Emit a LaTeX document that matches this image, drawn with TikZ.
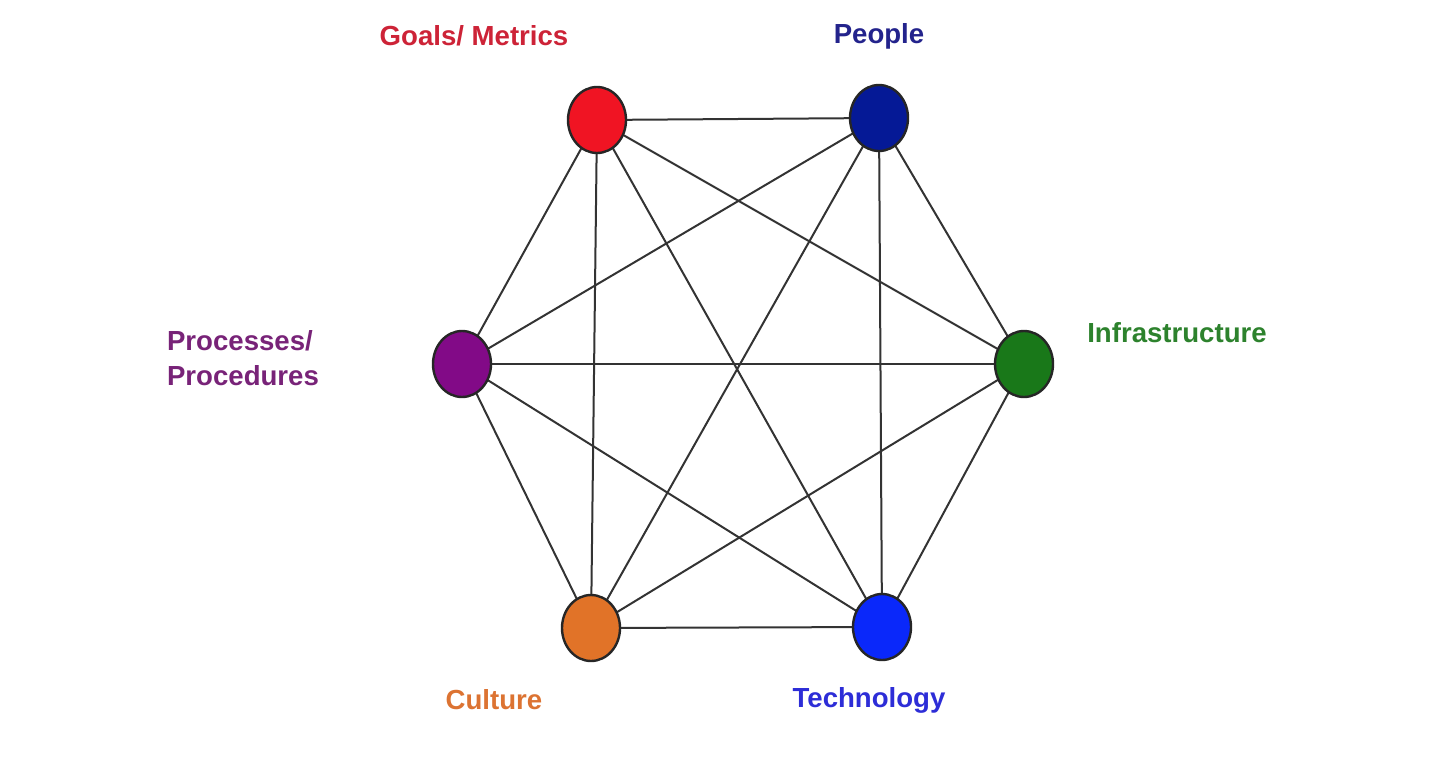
\documentclass[tikz,border=0pt]{standalone}
\usepackage{fontspec}
\setmainfont{Liberation Sans}
\usetikzlibrary{positioning,backgrounds,shapes}

\definecolor{goalsred}{RGB}{240,20,35}
\definecolor{goalstext}{RGB}{205,35,55}
\definecolor{peopleblue}{RGB}{5,25,150}
\definecolor{peopletext}{RGB}{35,35,140}
\definecolor{infragreen}{RGB}{25,120,25}
\definecolor{infratext}{RGB}{45,130,45}
\definecolor{techblue}{RGB}{10,40,250}
\definecolor{techtext}{RGB}{45,45,215}
\definecolor{cultorange}{RGB}{225,115,40}
\definecolor{culttext}{RGB}{220,115,50}
\definecolor{procpurple}{RGB}{130,10,135}
\definecolor{proctext}{RGB}{120,35,120}

\tikzset{
  dot/.style={ellipse, draw=black!85, line width=1.2pt, minimum width=29pt, minimum height=33pt, inner sep=0pt},
  tag/.style={font=\fontsize{13.8}{17.5}\selectfont\bfseries},
  link/.style={line width=1pt, draw=black!80}
}

\begin{document}
\begin{tikzpicture}[x=0.5pt,y=0.5pt,yscale=-1]
\useasboundingbox (0,0) rectangle (1456,760);

%Shape: Circles
\node [dot, fill=goalsred] (goals) at (597,120) {};
\node [dot, fill=peopleblue] (people) at (879,118) {};
\node [dot, fill=infragreen] (infra) at (1024,364) {};
\node [dot, fill=techblue] (tech) at (882,627) {};
\node [dot, fill=cultorange] (culture) at (591,628) {};
\node [dot, fill=procpurple] (proc) at (462,364) {};

%Straight Lines
\begin{scope}[on background layer]
\draw [link] (goals.center) -- (people.center) ;
\draw [link] (goals.center) -- (infra.center) ;
\draw [link] (goals.center) -- (tech.center) ;
\draw [link] (goals.center) -- (culture.center) ;
\draw [link] (goals.center) -- (proc.center) ;
\draw [link] (people.center) -- (infra.center) ;
\draw [link] (people.center) -- (tech.center) ;
\draw [link] (people.center) -- (culture.center) ;
\draw [link] (people.center) -- (proc.center) ;
\draw [link] (infra.center) -- (tech.center) ;
\draw [link] (infra.center) -- (culture.center) ;
\draw [link] (infra.center) -- (proc.center) ;
\draw [link] (tech.center) -- (culture.center) ;
\draw [link] (tech.center) -- (proc.center) ;
\draw [link] (culture.center) -- (proc.center) ;
\end{scope}

% Text Node
\node [tag, text=goalstext] (goalslbl) at (474,36) {Goals/ Metrics};
% Text Node
\node [tag, text=peopletext] (peoplelbl) at (879,36) {People};
% Text Node
\node [tag, text=infratext] (infralbl) at (1177,333) {Infrastructure};
% Text Node
\node [tag, text=proctext, align=left, anchor=west] (proclbl) at (160,358) {Processes/\\Procedures};
% Text Node
\node [tag, text=culttext] (cultlbl) at (494,700) {Culture};
% Text Node
\node [tag, text=techtext] (techlbl) at (869,700) {Technology};

\end{tikzpicture}
\end{document}
